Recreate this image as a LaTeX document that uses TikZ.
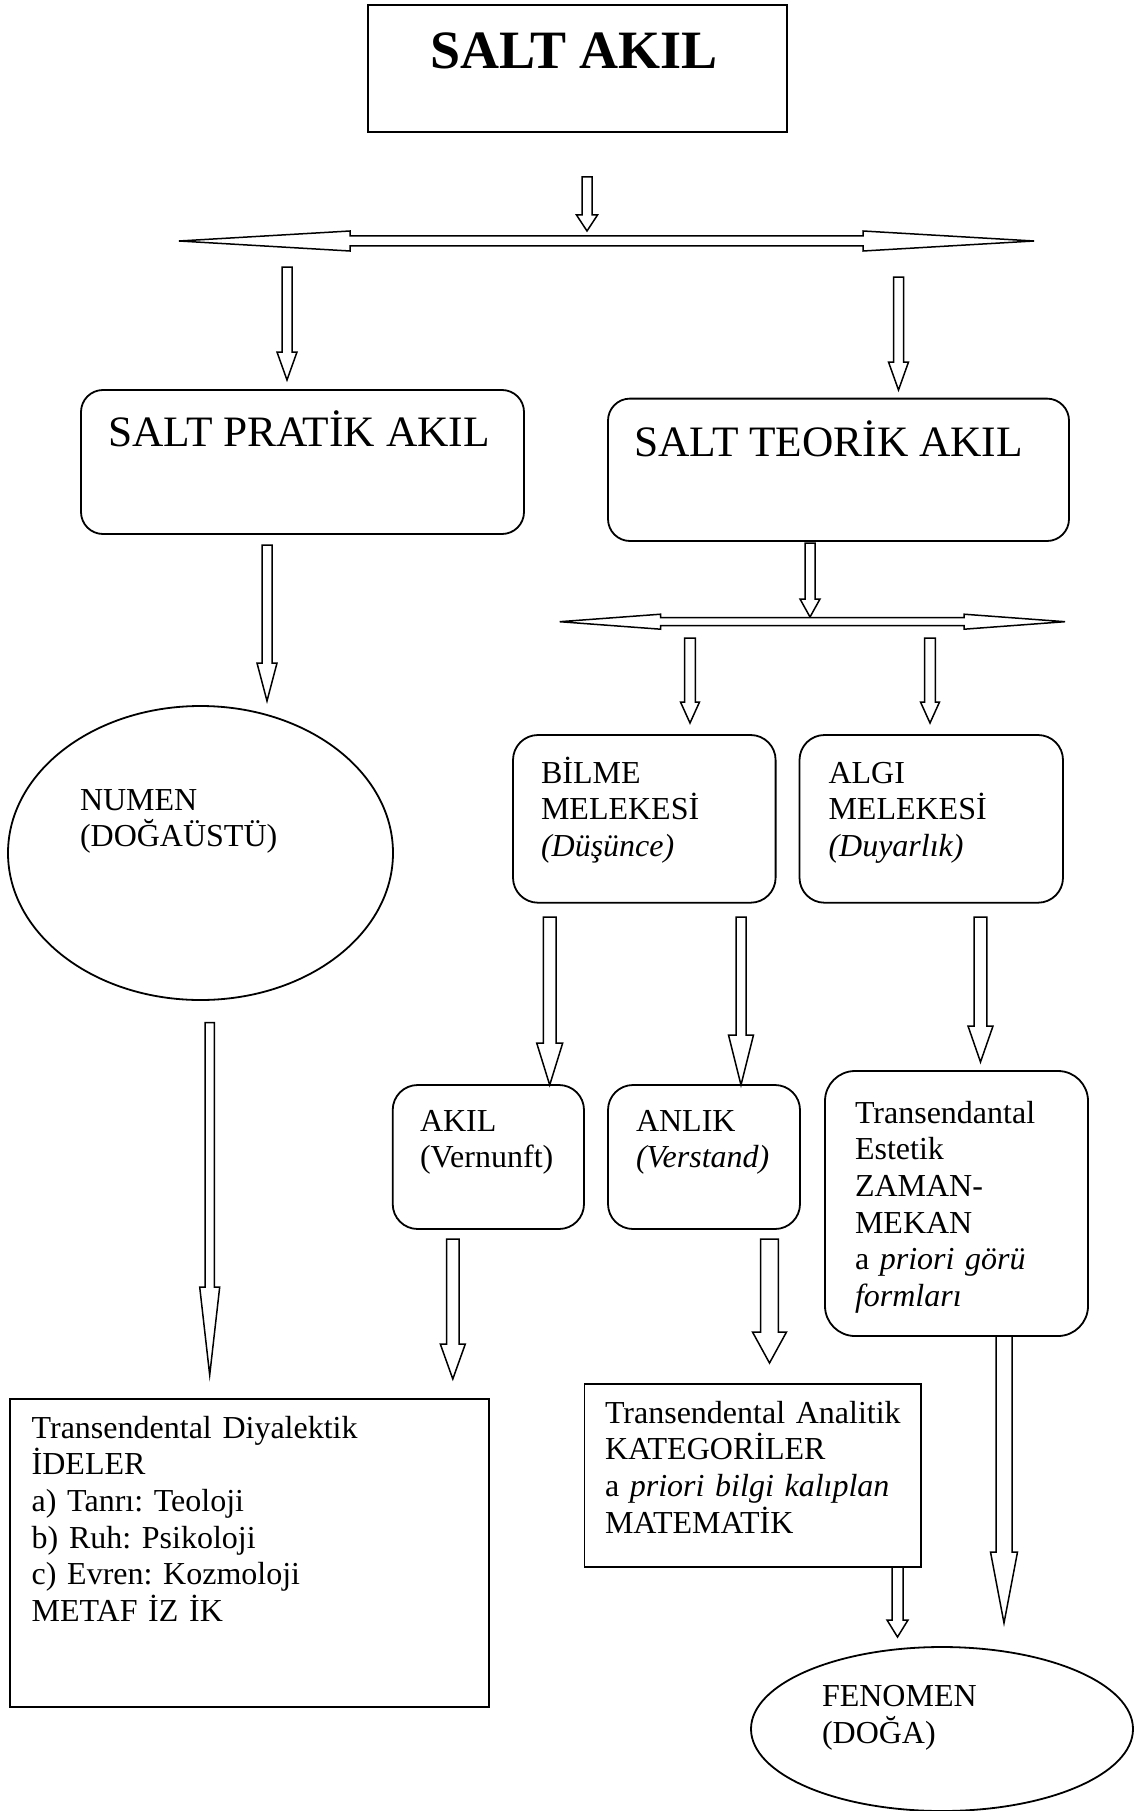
\documentclass[tikz,border=0pt]{standalone}
\usepackage{fontspec}
\setmainfont{Liberation Serif}
\usetikzlibrary{shapes.geometric,calc}
\tikzset{
  frame/.style={draw, line width=1.8pt, inner sep=0pt, outer sep=0pt},
  rbox/.style={frame, rounded corners=#1},
  rbox/.default=22pt,
  oval/.style={frame, ellipse},
  arr/.style={draw, line width=1.5pt, fill=white, line join=miter},
  txt/.style={anchor=base west, inner sep=0pt, outer sep=0pt, align=left, text width=#1,
    font=\fontsize{32}{36.7}\selectfont\frenchspacing},
  txt/.default=300pt,
  big/.style={anchor=base west, inner sep=0pt, outer sep=0pt,
    font=\fontsize{43.4}{48}\selectfont}
}
% vertical block arrow: #1 top, #2 tip, #3 shaft half width, #4 head half width, #5 head length
\newcommand{\blkdown}[5]{%
  \draw[arr] let \p1=(#1), \p2=(#2) in
    (\x1-#3pt,\y1) -- (\x1-#3pt,\y2+#5pt) -- (\x1-#4pt,\y2+#5pt) -- (\x1,\y2)
    -- (\x1+#4pt,\y2+#5pt) -- (\x1+#3pt,\y2+#5pt) -- (\x1+#3pt,\y1) -- cycle;}
% horizontal double block arrow: #1 left tip, #2 right tip
\newcommand{\blkdouble}[5]{%
  \draw[arr] let \p1=(#1), \p2=(#2) in
    (\x1,\y1) -- (\x1+#5pt,\y1+#4pt) -- (\x1+#5pt,\y1+#3pt) -- (\x2-#5pt,\y1+#3pt)
    -- (\x2-#5pt,\y1+#4pt) -- (\x2,\y1) -- (\x2-#5pt,\y1-#4pt) -- (\x2-#5pt,\y1-#3pt)
    -- (\x1+#5pt,\y1-#3pt) -- (\x1+#5pt,\y1-#4pt) -- cycle;}
\begin{document}
\begin{tikzpicture}[x=1pt,y=-1pt]
\useasboundingbox[fill=white] (0,0) rectangle (1138,1811);

% ---------- boxes ----------
\node[frame, minimum width=419pt, minimum height=127pt] (saltakil) at (577.5,68.5) {};
\node[rbox, minimum width=443pt, minimum height=144pt] (pratik) at (302.5,462) {};
\node[rbox, minimum width=461pt, minimum height=142.4pt] (teorik) at (838.5,469.8) {};
\node[rbox=25pt, minimum width=262.6pt, minimum height=167.7pt] (bilme) at (644.3,818.85) {};
\node[rbox=25pt, minimum width=263.5pt, minimum height=167.7pt] (algi) at (931.25,818.85) {};
\node[rbox=25pt, minimum width=191.3pt, minimum height=144pt] (akil) at (488.35,1157) {};
\node[rbox=25pt, minimum width=192pt, minimum height=144pt] (anlik) at (704,1157) {};
\node[rbox=30pt, minimum width=263pt, minimum height=265pt] (estetik) at (956.5,1203.5) {};
\node[frame, minimum width=479pt, minimum height=308pt] (diyalektik) at (249.5,1553) {};
\node[frame, minimum width=336.5pt, minimum height=183pt] (analitik) at (752.75,1475.5) {};
\node[oval, minimum width=385pt, minimum height=294pt] (numen) at (200.5,853) {};
\node[oval, minimum width=382pt, minimum height=164pt] (fenomen) at (942,1729) {};

% ---------- texts ----------
\node[anchor=base, inner sep=0pt, font=\fontsize{54}{60}\selectfont\bfseries] (saltakilT) at (574,68.3) {SALT AKIL};
\node[big] (pratikT) at (108,446) {SALT PRAT\.IK AKIL};
\node[big] (teorikT) at (634,456) {SALT TEOR\.IK AKIL};
\node[txt] (numenT) at (80,810) {NUMEN\\(DO\u{G}A\"UST\"U)};
\node[txt=220pt] (bilmeT) at (541,783) {B\.ILME\\MELEKES\.I\\\textit{(D\"u\c{s}\"unce)}};
\node[txt=220pt] (algiT) at (828.5,783) {ALGI\\MELEKES\.I\\\textit{(Duyarl\i k)}};
\node[txt=160pt] (akilT) at (420,1131) {AKIL\\(Vernunft)};
\node[txt=160pt] (anlikT) at (636,1131) {ANLIK\\\textit{(Verstand)}};
\node[txt=225pt] (estetikT) at (855,1123) {Transendantal\\Estetik\\ZAMAN-\\MEKAN\\a \textit{priori g\"or\"u}\\\textit{formlar\i}};
\node[txt=440pt] (diyalektikT) at (31.7,1438) {Transendental Diyalektik\\\.IDELER\\a) Tanr\i: Teoloji\\b) Ruh: Psikoloji\\c) Evren: Kozmoloji\\METAF \.IZ \.IK};
\node[txt=310pt] (analitikT) at (605,1423) {Transendental Analitik\\KATEGOR\.ILER\\a \textit{priori bilgi kal\i plan}\\MATEMAT\.IK};
\node[txt=250pt] (fenomenT) at (822,1706.7) {FENOMEN\\(DO\u{G}A)};

% ---------- arrow end points ----------
\coordinate (a1s) at (587,177);    \coordinate (a1e) at (587,231);
\coordinate (d1l) at (179,241);    \coordinate (d1r) at (1034,241);
\coordinate (a2s) at (287,267);    \coordinate (a2e) at (287,380);
\coordinate (a3s) at (898.5,277);  \coordinate (a3e) at (898.5,390);
\coordinate (a4s) at (810,543);    \coordinate (a4e) at (810,617);
\coordinate (d2l) at (559.6,621.7); \coordinate (d2r) at (1065,621.7);
\coordinate (a5s) at (267,545);    \coordinate (a5e) at (267,701);
\coordinate (a6s) at (690,638);    \coordinate (a6e) at (690,723);
\coordinate (a7s) at (930,638);    \coordinate (a7e) at (930,723);
\coordinate (a8s) at (209.7,1022.7); \coordinate (a8e) at (209.7,1375);
\coordinate (a9s) at (549.7,917);  \coordinate (a9e) at (549.7,1085);
\coordinate (a10s) at (741,917);   \coordinate (a10e) at (741,1085);
\coordinate (a11s) at (980.5,917); \coordinate (a11e) at (980.5,1062);
\coordinate (a12s) at (452.8,1239); \coordinate (a12e) at (452.8,1379);
\coordinate (a13s) at (769.5,1239); \coordinate (a13e) at (769.5,1363);
\coordinate (a14s) at (1004,1336); \coordinate (a14e) at (1004,1623);
\coordinate (a15s) at (897.5,1567); \coordinate (a15e) at (897.5,1637);

% ---------- arrows ----------
\blkdown{a1s}{a1e}{5}{10.5}{16}
\blkdouble{d1l}{d1r}{5}{10}{171}
\blkdown{a2s}{a2e}{5}{10}{28}
\blkdown{a3s}{a3e}{5}{10}{28}
\blkdown{a4s}{a4e}{5}{10}{18}
\blkdouble{d2l}{d2r}{4}{7.5}{101}
\blkdown{a5s}{a5e}{5}{10}{38}
\blkdown{a6s}{a6e}{5.4}{9.5}{21}
\blkdown{a7s}{a7e}{5.4}{9.5}{21}
\blkdown{a8s}{a8e}{4.7}{10}{88}
\blkdown{a9s}{a9e}{6.3}{13}{42}
\blkdown{a10s}{a10e}{5}{12.5}{50}
\blkdown{a11s}{a11e}{6.3}{12.5}{36}
\blkdown{a12s}{a12e}{6.2}{12.5}{35}
\blkdown{a13s}{a13e}{8.8}{17}{31}
\blkdown{a14s}{a14e}{8}{13.5}{71}
\blkdown{a15s}{a15e}{5.5}{10.5}{17}
\end{tikzpicture}
\end{document}
